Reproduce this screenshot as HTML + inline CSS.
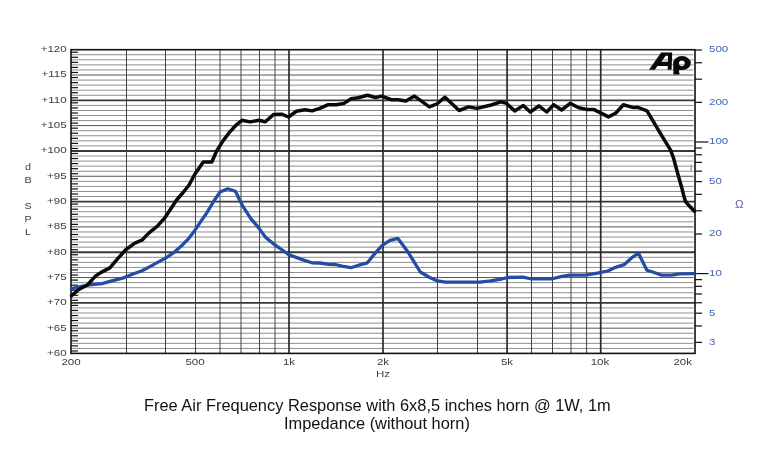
<!DOCTYPE html>
<html><head><meta charset="utf-8"><style>
html,body{margin:0;padding:0;background:#fff;}
div{will-change:transform;}
body{width:768px;height:462px;position:relative;overflow:hidden;font-family:"Liberation Sans",sans-serif;}
svg{position:absolute;left:0;top:0;}
.yl{position:absolute;left:9px;width:60px;text-align:right;font-size:8.3px;line-height:12px;color:#3c3c3c;transform:scaleX(1.39);transform-origin:66px 0;}
.xl{position:absolute;top:356px;width:40px;text-align:center;font-size:8.3px;line-height:12px;color:#3c3c3c;transform:scaleX(1.39);transform-origin:20px 0;}
.xl.r{text-align:right;transform-origin:40px 0;}
.zl{position:absolute;left:709.3px;font-size:8.3px;line-height:12px;color:#4566b5;transform:scaleX(1.39);transform-origin:0 0;}
.t{position:absolute;white-space:nowrap;font-size:16.4px;line-height:20px;color:#111;}
.dl{position:absolute;left:22px;width:12px;text-align:center;font-size:8.3px;line-height:12px;color:#3c3c3c;transform:scaleX(1.3);}
</style></head><body>
<svg width="768" height="462" viewBox="0 0 768 462">
<line x1="71.0" y1="348.44" x2="693.5" y2="348.44" stroke="#8e8e8e" stroke-width="1"/>
<line x1="71.0" y1="343.37" x2="693.5" y2="343.37" stroke="#8e8e8e" stroke-width="1"/>
<line x1="71.0" y1="338.31" x2="693.5" y2="338.31" stroke="#8e8e8e" stroke-width="1"/>
<line x1="71.0" y1="333.25" x2="693.5" y2="333.25" stroke="#8e8e8e" stroke-width="1"/>
<line x1="71.0" y1="328.18" x2="693.5" y2="328.18" stroke="#555" stroke-width="1"/>
<line x1="71.0" y1="323.12" x2="693.5" y2="323.12" stroke="#8e8e8e" stroke-width="1"/>
<line x1="71.0" y1="318.06" x2="693.5" y2="318.06" stroke="#8e8e8e" stroke-width="1"/>
<line x1="71.0" y1="312.99" x2="693.5" y2="312.99" stroke="#8e8e8e" stroke-width="1"/>
<line x1="71.0" y1="307.93" x2="693.5" y2="307.93" stroke="#8e8e8e" stroke-width="1"/>
<line x1="71.0" y1="302.87" x2="695.0" y2="302.87" stroke="#383838" stroke-width="1.9"/>
<line x1="71.0" y1="297.80" x2="693.5" y2="297.80" stroke="#8e8e8e" stroke-width="1"/>
<line x1="71.0" y1="292.74" x2="693.5" y2="292.74" stroke="#8e8e8e" stroke-width="1"/>
<line x1="71.0" y1="287.68" x2="693.5" y2="287.68" stroke="#8e8e8e" stroke-width="1"/>
<line x1="71.0" y1="282.61" x2="693.5" y2="282.61" stroke="#8e8e8e" stroke-width="1"/>
<line x1="71.0" y1="277.55" x2="693.5" y2="277.55" stroke="#555" stroke-width="1"/>
<line x1="71.0" y1="272.49" x2="693.5" y2="272.49" stroke="#8e8e8e" stroke-width="1"/>
<line x1="71.0" y1="267.42" x2="693.5" y2="267.42" stroke="#8e8e8e" stroke-width="1"/>
<line x1="71.0" y1="262.36" x2="693.5" y2="262.36" stroke="#8e8e8e" stroke-width="1"/>
<line x1="71.0" y1="257.30" x2="693.5" y2="257.30" stroke="#8e8e8e" stroke-width="1"/>
<line x1="71.0" y1="252.23" x2="695.0" y2="252.23" stroke="#383838" stroke-width="1.9"/>
<line x1="71.0" y1="247.17" x2="693.5" y2="247.17" stroke="#8e8e8e" stroke-width="1"/>
<line x1="71.0" y1="242.11" x2="693.5" y2="242.11" stroke="#8e8e8e" stroke-width="1"/>
<line x1="71.0" y1="237.04" x2="693.5" y2="237.04" stroke="#8e8e8e" stroke-width="1"/>
<line x1="71.0" y1="231.98" x2="693.5" y2="231.98" stroke="#8e8e8e" stroke-width="1"/>
<line x1="71.0" y1="226.92" x2="693.5" y2="226.92" stroke="#555" stroke-width="1"/>
<line x1="71.0" y1="221.85" x2="693.5" y2="221.85" stroke="#8e8e8e" stroke-width="1"/>
<line x1="71.0" y1="216.79" x2="693.5" y2="216.79" stroke="#8e8e8e" stroke-width="1"/>
<line x1="71.0" y1="211.73" x2="693.5" y2="211.73" stroke="#8e8e8e" stroke-width="1"/>
<line x1="71.0" y1="206.66" x2="693.5" y2="206.66" stroke="#8e8e8e" stroke-width="1"/>
<line x1="71.0" y1="201.60" x2="695.0" y2="201.60" stroke="#383838" stroke-width="1.9"/>
<line x1="71.0" y1="196.54" x2="693.5" y2="196.54" stroke="#8e8e8e" stroke-width="1"/>
<line x1="71.0" y1="191.47" x2="693.5" y2="191.47" stroke="#8e8e8e" stroke-width="1"/>
<line x1="71.0" y1="186.41" x2="693.5" y2="186.41" stroke="#8e8e8e" stroke-width="1"/>
<line x1="71.0" y1="181.35" x2="693.5" y2="181.35" stroke="#8e8e8e" stroke-width="1"/>
<line x1="71.0" y1="176.28" x2="693.5" y2="176.28" stroke="#555" stroke-width="1"/>
<line x1="71.0" y1="171.22" x2="693.5" y2="171.22" stroke="#8e8e8e" stroke-width="1"/>
<line x1="71.0" y1="166.16" x2="693.5" y2="166.16" stroke="#8e8e8e" stroke-width="1"/>
<line x1="71.0" y1="161.09" x2="693.5" y2="161.09" stroke="#8e8e8e" stroke-width="1"/>
<line x1="71.0" y1="156.03" x2="693.5" y2="156.03" stroke="#8e8e8e" stroke-width="1"/>
<line x1="71.0" y1="150.97" x2="695.0" y2="150.97" stroke="#383838" stroke-width="1.9"/>
<line x1="71.0" y1="145.90" x2="693.5" y2="145.90" stroke="#8e8e8e" stroke-width="1"/>
<line x1="71.0" y1="140.84" x2="693.5" y2="140.84" stroke="#8e8e8e" stroke-width="1"/>
<line x1="71.0" y1="135.78" x2="693.5" y2="135.78" stroke="#8e8e8e" stroke-width="1"/>
<line x1="71.0" y1="130.71" x2="693.5" y2="130.71" stroke="#8e8e8e" stroke-width="1"/>
<line x1="71.0" y1="125.65" x2="693.5" y2="125.65" stroke="#555" stroke-width="1"/>
<line x1="71.0" y1="120.59" x2="693.5" y2="120.59" stroke="#8e8e8e" stroke-width="1"/>
<line x1="71.0" y1="115.52" x2="693.5" y2="115.52" stroke="#8e8e8e" stroke-width="1"/>
<line x1="71.0" y1="110.46" x2="693.5" y2="110.46" stroke="#8e8e8e" stroke-width="1"/>
<line x1="71.0" y1="105.40" x2="693.5" y2="105.40" stroke="#8e8e8e" stroke-width="1"/>
<line x1="71.0" y1="100.33" x2="695.0" y2="100.33" stroke="#383838" stroke-width="1.9"/>
<line x1="71.0" y1="95.27" x2="693.5" y2="95.27" stroke="#8e8e8e" stroke-width="1"/>
<line x1="71.0" y1="90.21" x2="693.5" y2="90.21" stroke="#8e8e8e" stroke-width="1"/>
<line x1="71.0" y1="85.14" x2="693.5" y2="85.14" stroke="#8e8e8e" stroke-width="1"/>
<line x1="71.0" y1="80.08" x2="693.5" y2="80.08" stroke="#8e8e8e" stroke-width="1"/>
<line x1="71.0" y1="75.02" x2="693.5" y2="75.02" stroke="#555" stroke-width="1"/>
<line x1="71.0" y1="69.95" x2="693.5" y2="69.95" stroke="#8e8e8e" stroke-width="1"/>
<line x1="71.0" y1="64.89" x2="693.5" y2="64.89" stroke="#8e8e8e" stroke-width="1"/>
<line x1="71.0" y1="59.83" x2="693.5" y2="59.83" stroke="#8e8e8e" stroke-width="1"/>
<line x1="71.0" y1="54.76" x2="693.5" y2="54.76" stroke="#8e8e8e" stroke-width="1"/>
<line x1="71.0" y1="350.97" x2="78" y2="350.97" stroke="#111" stroke-width="1.2"/>
<line x1="71.0" y1="345.90" x2="78" y2="345.90" stroke="#111" stroke-width="1.2"/>
<line x1="71.0" y1="340.84" x2="78" y2="340.84" stroke="#111" stroke-width="1.2"/>
<line x1="71.0" y1="335.78" x2="78" y2="335.78" stroke="#111" stroke-width="1.2"/>
<line x1="71.0" y1="330.71" x2="78" y2="330.71" stroke="#111" stroke-width="1.2"/>
<line x1="71.0" y1="325.65" x2="78" y2="325.65" stroke="#111" stroke-width="1.2"/>
<line x1="71.0" y1="320.59" x2="78" y2="320.59" stroke="#111" stroke-width="1.2"/>
<line x1="71.0" y1="315.52" x2="78" y2="315.52" stroke="#111" stroke-width="1.2"/>
<line x1="71.0" y1="310.46" x2="78" y2="310.46" stroke="#111" stroke-width="1.2"/>
<line x1="71.0" y1="305.40" x2="78" y2="305.40" stroke="#111" stroke-width="1.2"/>
<line x1="71.0" y1="300.34" x2="78" y2="300.34" stroke="#111" stroke-width="1.2"/>
<line x1="71.0" y1="295.27" x2="78" y2="295.27" stroke="#111" stroke-width="1.2"/>
<line x1="71.0" y1="290.21" x2="78" y2="290.21" stroke="#111" stroke-width="1.2"/>
<line x1="71.0" y1="285.14" x2="78" y2="285.14" stroke="#111" stroke-width="1.2"/>
<line x1="71.0" y1="280.08" x2="78" y2="280.08" stroke="#111" stroke-width="1.2"/>
<line x1="71.0" y1="275.02" x2="78" y2="275.02" stroke="#111" stroke-width="1.2"/>
<line x1="71.0" y1="269.95" x2="78" y2="269.95" stroke="#111" stroke-width="1.2"/>
<line x1="71.0" y1="264.89" x2="78" y2="264.89" stroke="#111" stroke-width="1.2"/>
<line x1="71.0" y1="259.83" x2="78" y2="259.83" stroke="#111" stroke-width="1.2"/>
<line x1="71.0" y1="254.76" x2="78" y2="254.76" stroke="#111" stroke-width="1.2"/>
<line x1="71.0" y1="249.70" x2="78" y2="249.70" stroke="#111" stroke-width="1.2"/>
<line x1="71.0" y1="244.64" x2="78" y2="244.64" stroke="#111" stroke-width="1.2"/>
<line x1="71.0" y1="239.57" x2="78" y2="239.57" stroke="#111" stroke-width="1.2"/>
<line x1="71.0" y1="234.51" x2="78" y2="234.51" stroke="#111" stroke-width="1.2"/>
<line x1="71.0" y1="229.45" x2="78" y2="229.45" stroke="#111" stroke-width="1.2"/>
<line x1="71.0" y1="224.38" x2="78" y2="224.38" stroke="#111" stroke-width="1.2"/>
<line x1="71.0" y1="219.32" x2="78" y2="219.32" stroke="#111" stroke-width="1.2"/>
<line x1="71.0" y1="214.26" x2="78" y2="214.26" stroke="#111" stroke-width="1.2"/>
<line x1="71.0" y1="209.19" x2="78" y2="209.19" stroke="#111" stroke-width="1.2"/>
<line x1="71.0" y1="204.13" x2="78" y2="204.13" stroke="#111" stroke-width="1.2"/>
<line x1="71.0" y1="199.07" x2="78" y2="199.07" stroke="#111" stroke-width="1.2"/>
<line x1="71.0" y1="194.00" x2="78" y2="194.00" stroke="#111" stroke-width="1.2"/>
<line x1="71.0" y1="188.94" x2="78" y2="188.94" stroke="#111" stroke-width="1.2"/>
<line x1="71.0" y1="183.88" x2="78" y2="183.88" stroke="#111" stroke-width="1.2"/>
<line x1="71.0" y1="178.81" x2="78" y2="178.81" stroke="#111" stroke-width="1.2"/>
<line x1="71.0" y1="173.75" x2="78" y2="173.75" stroke="#111" stroke-width="1.2"/>
<line x1="71.0" y1="168.69" x2="78" y2="168.69" stroke="#111" stroke-width="1.2"/>
<line x1="71.0" y1="163.62" x2="78" y2="163.62" stroke="#111" stroke-width="1.2"/>
<line x1="71.0" y1="158.56" x2="78" y2="158.56" stroke="#111" stroke-width="1.2"/>
<line x1="71.0" y1="153.50" x2="78" y2="153.50" stroke="#111" stroke-width="1.2"/>
<line x1="71.0" y1="148.44" x2="78" y2="148.44" stroke="#111" stroke-width="1.2"/>
<line x1="71.0" y1="143.37" x2="78" y2="143.37" stroke="#111" stroke-width="1.2"/>
<line x1="71.0" y1="138.31" x2="78" y2="138.31" stroke="#111" stroke-width="1.2"/>
<line x1="71.0" y1="133.25" x2="78" y2="133.25" stroke="#111" stroke-width="1.2"/>
<line x1="71.0" y1="128.18" x2="78" y2="128.18" stroke="#111" stroke-width="1.2"/>
<line x1="71.0" y1="123.12" x2="78" y2="123.12" stroke="#111" stroke-width="1.2"/>
<line x1="71.0" y1="118.06" x2="78" y2="118.06" stroke="#111" stroke-width="1.2"/>
<line x1="71.0" y1="112.99" x2="78" y2="112.99" stroke="#111" stroke-width="1.2"/>
<line x1="71.0" y1="107.93" x2="78" y2="107.93" stroke="#111" stroke-width="1.2"/>
<line x1="71.0" y1="102.87" x2="78" y2="102.87" stroke="#111" stroke-width="1.2"/>
<line x1="71.0" y1="97.80" x2="78" y2="97.80" stroke="#111" stroke-width="1.2"/>
<line x1="71.0" y1="92.74" x2="78" y2="92.74" stroke="#111" stroke-width="1.2"/>
<line x1="71.0" y1="87.68" x2="78" y2="87.68" stroke="#111" stroke-width="1.2"/>
<line x1="71.0" y1="82.61" x2="78" y2="82.61" stroke="#111" stroke-width="1.2"/>
<line x1="71.0" y1="77.55" x2="78" y2="77.55" stroke="#111" stroke-width="1.2"/>
<line x1="71.0" y1="72.48" x2="78" y2="72.48" stroke="#111" stroke-width="1.2"/>
<line x1="71.0" y1="67.42" x2="78" y2="67.42" stroke="#111" stroke-width="1.2"/>
<line x1="71.0" y1="62.36" x2="78" y2="62.36" stroke="#111" stroke-width="1.2"/>
<line x1="71.0" y1="57.30" x2="78" y2="57.30" stroke="#111" stroke-width="1.2"/>
<line x1="71.0" y1="52.23" x2="78" y2="52.23" stroke="#111" stroke-width="1.2"/>
<line x1="126.50" y1="49.7" x2="126.50" y2="353.4" stroke="#444" stroke-width="1"/>
<line x1="165.50" y1="49.7" x2="165.50" y2="353.4" stroke="#444" stroke-width="1"/>
<line x1="195.50" y1="49.7" x2="195.50" y2="353.4" stroke="#444" stroke-width="1"/>
<line x1="220.00" y1="49.7" x2="220.00" y2="353.4" stroke="#444" stroke-width="1"/>
<line x1="241.00" y1="49.7" x2="241.00" y2="353.4" stroke="#444" stroke-width="1"/>
<line x1="259.50" y1="49.7" x2="259.50" y2="353.4" stroke="#444" stroke-width="1"/>
<line x1="275.00" y1="49.7" x2="275.00" y2="353.4" stroke="#444" stroke-width="1"/>
<line x1="437.50" y1="49.7" x2="437.50" y2="353.4" stroke="#444" stroke-width="1"/>
<line x1="477.50" y1="49.7" x2="477.50" y2="353.4" stroke="#444" stroke-width="1"/>
<line x1="531.50" y1="49.7" x2="531.50" y2="353.4" stroke="#444" stroke-width="1"/>
<line x1="552.50" y1="49.7" x2="552.50" y2="353.4" stroke="#444" stroke-width="1"/>
<line x1="571.00" y1="49.7" x2="571.00" y2="353.4" stroke="#444" stroke-width="1"/>
<line x1="586.60" y1="49.7" x2="586.60" y2="353.4" stroke="#444" stroke-width="1"/>
<line x1="289.00" y1="49.7" x2="289.00" y2="353.4" stroke="#2a2a2a" stroke-width="1.7"/>
<line x1="383.00" y1="49.7" x2="383.00" y2="353.4" stroke="#2a2a2a" stroke-width="1.7"/>
<line x1="507.10" y1="49.7" x2="507.10" y2="353.4" stroke="#2a2a2a" stroke-width="1.7"/>
<line x1="600.70" y1="49.7" x2="600.70" y2="353.4" stroke="#2a2a2a" stroke-width="1.7"/>
<rect x="71.0" y="49.7" width="624.0" height="303.7" fill="none" stroke="#111" stroke-width="1.6"/>
<line x1="695.0" y1="50.00" x2="702" y2="50.00" stroke="#111" stroke-width="1.2"/>
<line x1="695.0" y1="62.75" x2="702" y2="62.75" stroke="#111" stroke-width="1.2"/>
<line x1="695.0" y1="79.20" x2="702" y2="79.20" stroke="#111" stroke-width="1.2"/>
<line x1="695.0" y1="102.37" x2="702" y2="102.37" stroke="#111" stroke-width="1.2"/>
<line x1="695.0" y1="141.98" x2="708.5" y2="141.98" stroke="#111" stroke-width="1.2"/>
<line x1="695.0" y1="148.01" x2="702" y2="148.01" stroke="#111" stroke-width="1.2"/>
<line x1="695.0" y1="154.74" x2="702" y2="154.74" stroke="#111" stroke-width="1.2"/>
<line x1="695.0" y1="162.37" x2="702" y2="162.37" stroke="#111" stroke-width="1.2"/>
<line x1="695.0" y1="171.18" x2="702" y2="171.18" stroke="#111" stroke-width="1.2"/>
<line x1="695.0" y1="181.60" x2="702" y2="181.60" stroke="#111" stroke-width="1.2"/>
<line x1="695.0" y1="194.35" x2="702" y2="194.35" stroke="#111" stroke-width="1.2"/>
<line x1="695.0" y1="210.80" x2="702" y2="210.80" stroke="#111" stroke-width="1.2"/>
<line x1="695.0" y1="233.97" x2="702" y2="233.97" stroke="#111" stroke-width="1.2"/>
<line x1="695.0" y1="273.58" x2="708.5" y2="273.58" stroke="#111" stroke-width="1.2"/>
<line x1="695.0" y1="279.61" x2="702" y2="279.61" stroke="#111" stroke-width="1.2"/>
<line x1="695.0" y1="286.34" x2="702" y2="286.34" stroke="#111" stroke-width="1.2"/>
<line x1="695.0" y1="293.97" x2="702" y2="293.97" stroke="#111" stroke-width="1.2"/>
<line x1="695.0" y1="302.78" x2="702" y2="302.78" stroke="#111" stroke-width="1.2"/>
<line x1="695.0" y1="313.20" x2="702" y2="313.20" stroke="#111" stroke-width="1.2"/>
<line x1="695.0" y1="325.95" x2="702" y2="325.95" stroke="#111" stroke-width="1.2"/>
<line x1="695.0" y1="342.40" x2="702" y2="342.40" stroke="#111" stroke-width="1.2"/>
<polyline points="71.5,288.6 87.4,285 102,283.7 112.8,280.6 122.5,278.2 132.3,274.3 142,270.8 151.8,265.6 157.6,262.4 165.2,258.3 174.2,252.3 181.8,245.5 187.9,239.4 193.9,231.8 200,222.7 206.8,212.9 213.6,201.5 219.9,192.1 227.7,188.8 235.4,191.3 242.3,205.3 251,218.9 257.8,226.7 265.6,237.4 275.3,245.2 289,254.8 300.9,259.1 311.9,262.8 319.7,263 329.1,264.4 335.3,264.5 343.1,266.4 350.9,267.7 358.75,265.2 367.3,262.8 375.2,253.1 382.2,245.3 390,240.3 397.8,238.3 407.8,251.7 420.3,272 429.7,277.5 437.5,280.9 445.3,282.2 479.7,282.2 490.6,280.9 501.6,279 507.8,277.5 522.8,277.2 530.6,278.75 552.5,278.75 561.9,276.4 569.7,275.2 585.3,275.2 594.7,273.6 600,272.6 607.8,271 615.6,267.3 624.1,264.7 631.25,258.2 638.4,253 646.9,270.2 653.4,272.3 661.8,275.2 671.6,275.2 679.4,273.9 693.75,273.6" fill="none" stroke="#244ca6" stroke-width="3.3" stroke-linejoin="round" stroke-linecap="round"/>
<polyline points="71.5,295.8 78.7,289.5 87.4,285 95.2,276.3 101.1,272.4 109.9,267.9 117.7,258.7 125.5,250 134.8,243.2 141.9,240.2 149,232.9 157.4,226.2 164.5,218.2 170.5,209.3 176.6,200 182.7,193 189.2,184.8 194.8,174.3 203.3,161.9 211.8,162 216.5,151.2 223,140.9 229.5,132.2 236,125.2 242,120.3 250.1,121.9 258.8,120.3 265.3,121.7 273.75,114.4 281.6,114.2 288.6,117 296.4,111.25 305,109.7 312,110.9 319.8,108.4 327.7,104.8 336.25,104.8 344,103.4 351.1,98.75 358.1,97.8 367.5,95.2 375.5,97.5 381.7,96.1 391.9,99.8 398.1,99.8 405.9,101.1 414.5,96.1 429.4,106.9 437.2,103.75 445,97.2 459.1,110.5 468.4,106.9 477,108.4 491.25,105 500.6,101.9 506.1,103.1 514.7,110.9 523.3,105.5 530.3,112 538.9,105.8 546.7,112 553.75,104.7 561.6,110 570.2,103.4 578.75,107.8 586.6,109.4 593.6,109.4 608.5,116.9 615.6,113.2 623.4,104.8 632.6,107.4 637.8,107.4 647,110.8 662,136.1 670.6,150.2 673.5,158 677.9,174.3 682,188.6 684.4,198.1 685.8,201.9 689.2,205.8 694.4,211.3" fill="none" stroke="#0a0a0a" stroke-width="3.5" stroke-linejoin="round" stroke-linecap="round"/>
<path fill="#0a0a0a" fill-rule="evenodd" d="M649,69.8 L661.1,52.4 L672.2,52.4 L671.6,69.8 L667.6,69.8 L667.8,66 L657.5,66 L654.8,69.8 Z M661.4,61.8 L667.9,61.8 L668,55.8 L665.6,55.8 Z"/>
<path fill="#0a0a0a" fill-rule="evenodd" d="M673.4,74.4 L673.2,63.1 A8.8,7 0 1 1 682,70.1 L678.9,70.1 L679.6,74.4 Z M684.7,63.3 A2.85,2.85 0 1 0 679,63.3 A2.85,2.85 0 1 0 684.7,63.3 Z"/>
<rect x="690.5" y="164.5" width="1.3" height="7" fill="#74b85e"/>
</svg>
<div class="yl" style="top:346.9px">+60</div>
<div class="yl" style="top:321.6px">+65</div>
<div class="yl" style="top:296.3px">+70</div>
<div class="yl" style="top:270.9px">+75</div>
<div class="yl" style="top:245.6px">+80</div>
<div class="yl" style="top:220.3px">+85</div>
<div class="yl" style="top:195.0px">+90</div>
<div class="yl" style="top:169.7px">+95</div>
<div class="yl" style="top:144.4px">+100</div>
<div class="yl" style="top:119.1px">+105</div>
<div class="yl" style="top:93.7px">+110</div>
<div class="yl" style="top:68.4px">+115</div>
<div class="yl" style="top:43.1px">+120</div>
<div class="xl" style="left:50.8px">200</div>
<div class="xl" style="left:174.6px">500</div>
<div class="xl" style="left:269.0px">1k</div>
<div class="xl" style="left:363.0px">2k</div>
<div class="xl" style="left:486.9px">5k</div>
<div class="xl" style="left:579.9px">10k</div>
<div class="xl r" style="left:652.0px;">20k</div>
<div class="zl" style="top:43.4px">500</div>
<div class="zl" style="top:95.8px">200</div>
<div class="zl" style="top:135.4px">100</div>
<div class="zl" style="top:175.0px">50</div>
<div class="zl" style="top:227.4px">20</div>
<div class="zl" style="top:267.0px">10</div>
<div class="zl" style="top:306.6px">5</div>
<div class="zl" style="top:335.8px">3</div>
<div class="t" style="top:395px;left:144.3px">Free Air Frequency Response with 6x8,5 inches horn @ 1W, 1m</div>
<div class="t" style="top:413px;left:284.4px">Impedance (without horn)</div>
<div class="xl" style="left:363px;top:368px">Hz</div>
<div class="dl" style="top:161px">d</div>
<div class="dl" style="top:174px">B</div>
<div class="dl" style="top:200px">S</div>
<div class="dl" style="top:213px">P</div>
<div class="dl" style="top:226px">L</div>
<div style="position:absolute;left:735px;top:197px;font-size:11.5px;line-height:14px;color:#5560b0">&#937;</div>
</body></html>
